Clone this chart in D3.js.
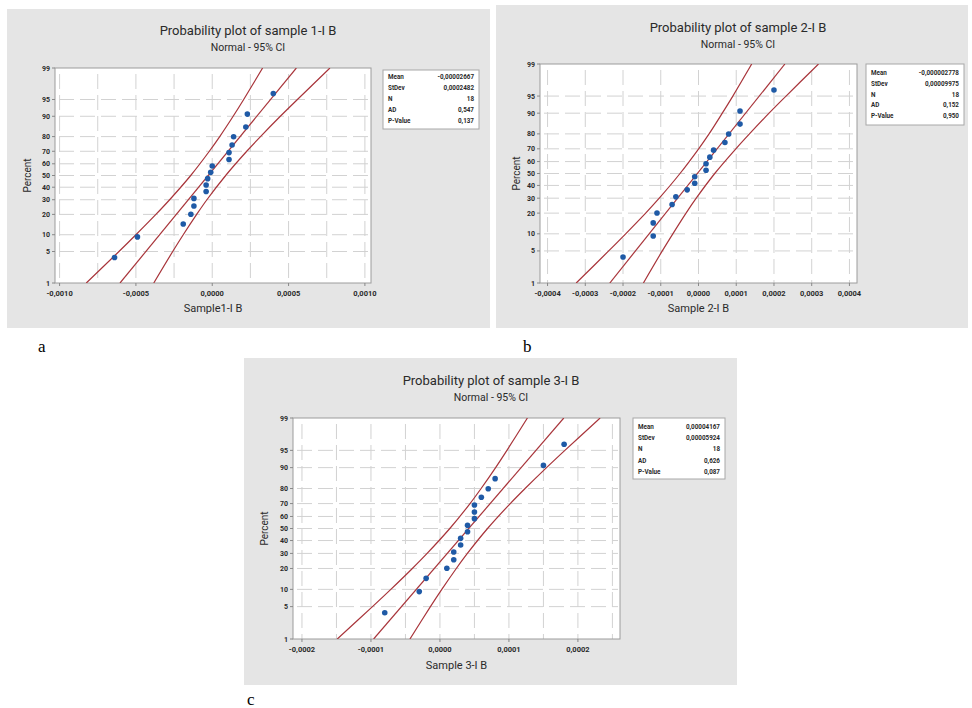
<!DOCTYPE html>
<html>
<head>
<meta charset="utf-8">
<script src="https://cdn.jsdelivr.net/npm/d3@7"></script>
<style>
  body { margin: 0; background: #fff; }
  svg { display: block; }
  text { font-family: Roboto, "Open Sans", sans-serif; fill: #2a2a2a; }
</style>
</head>
<body>
<div id="chart"></div>
<script>
// shared axis values
const percentTicks = [1, 5, 10, 20, 30, 40, 50, 60, 70, 80, 90, 95, 99];
const pointPercent = [3.8, 9.2, 14.7, 20.1, 25.5, 31.0, 36.4, 41.8, 47.3, 52.7, 58.2, 63.6, 69.0, 74.5, 79.9, 85.3, 90.8, 96.2];
const bandPercent = [1, 5, 10, 20, 30, 50, 70, 80, 90, 95, 99];
const fitPercent = [1, 99];
const statLabels = ["Mean", "StDev", "N", "AD", "P-Value"];

// sample 1-I B
const sample1 = [-0.00064, -0.00049, -0.00019, -0.00014, -0.00012, -0.00012, -0.00004, -0.00004, -0.00003, -0.00001, 0, 0.00011, 0.00011, 0.00013, 0.00014, 0.00022, 0.00023, 0.00040];
const fit1 = [-0.000604, 0.000551];
const lower1 = [-0.000825, -0.000611, -0.000500, -0.000369, -0.000279, -0.000141, -0.000019, 0.000049, 0.000137, 0.000206, 0.000330];
const upper1 = [-0.000383, -0.000259, -0.000190, -0.000102, -0.000035, 0.000088, 0.000226, 0.000316, 0.000446, 0.000558, 0.000771];
const stats1 = ["-0,00002667", "0,0002482", "18", "0,547", "0,137"];
const xTicks1 = [-0.001, -0.0005, 0, 0.0005, 0.001];
const xGrid1 = [-0.001, -0.00075, -0.0005, -0.00025, 0, 0.00025, 0.0005, 0.00075, 0.001];

// sample 2-I B
const sample2 = [-0.00020, -0.00012, -0.00012, -0.00011, -0.00007, -0.00006, -0.00003, -0.00001, -0.00001, 0.00002, 0.00002, 0.00003, 0.00004, 0.00007, 0.00008, 0.00011, 0.00011, 0.00020];
const fit2 = [-0.000235, 0.000229];
const lower2 = [-0.000324, -0.000238, -0.000193, -0.000140, -0.000104, -0.000049, 0.0000004, 0.000028, 0.000063, 0.000091, 0.000141];
const upper2 = [-0.000146, -0.000096, -0.000068, -0.000033, -0.000006, 0.000043, 0.000099, 0.000135, 0.000187, 0.000232, 0.000318];
const stats2 = ["-0,000002778", "0,00009975", "18", "0,152", "0,950"];
const xTicks2 = [-0.0004, -0.0003, -0.0002, -0.0001, 0, 0.0001, 0.0002, 0.0003, 0.0004];
const xGrid2 = xTicks2;

// sample 3-I B
const sample3 = [-0.00008, -0.00003, -0.00002, 0.00001, 0.00002, 0.00002, 0.00003, 0.00003, 0.00004, 0.00004, 0.00005, 0.00005, 0.00005, 0.00006, 0.00007, 0.00008, 0.00015, 0.00018];
const fit3 = [-0.0000961, 0.0001795];
const lower3 = [-0.0001488, -0.0000978, -0.0000712, -0.0000400, -0.0000186, 0.0000143, 0.0000436, 0.0000597, 0.0000807, 0.0000971, 0.0001268];
const upper3 = [-0.0000435, -0.0000138, 0.0000027, 0.0000237, 0.0000398, 0.0000690, 0.0001019, 0.0001234, 0.0001545, 0.0001811, 0.0002322];
const stats3 = ["0,00004167", "0,00005924", "18", "0,626", "0,087"];
const xTicks3 = [-0.0002, -0.0001, 0, 0.0001, 0.0002];
const xGrid3 = [-0.0002, -0.00015, -0.0001, -0.00005, 0, 0.00005, 0.0001, 0.00015, 0.0002, 0.00025];

const panels = [
  {id: "a", title: "Probability plot of sample 1-I B", xLabel: "Sample1-I B",
   data: sample1, fit: fit1, lower: lower1, upper: upper1, stats: stats1, xTicks: xTicks1, xGrid: xGrid1,
   bg: [7, 9, 483, 319], frame: [55, 68, 371, 283], xDomain: [-0.00103, 0.00104],
   titleX: 248, titleY: 35, legend: [383, 70, 96, 59], rows: [77, 88, 99, 110, 121],
   xLabelY: 312, yLabelX: 31, letter: [38, 352]},
  {id: "b", title: "Probability plot of sample 2-I B", xLabel: "Sample 2-I B",
   data: sample2, fit: fit2, lower: lower2, upper: upper2, stats: stats2, xTicks: xTicks2, xGrid: xGrid2,
   bg: [496, 5, 472, 323], frame: [540, 64, 857, 283], xDomain: [-0.00042, 0.00042],
   titleX: 738, titleY: 32, legend: [866, 64, 98, 61], rows: [73, 84, 95, 105, 116],
   xLabelY: 312, yLabelX: 520, letter: [523, 352]},
  {id: "c", title: "Probability plot of sample 3-I B", xLabel: "Sample 3-I B",
   data: sample3, fit: fit3, lower: lower3, upper: upper3, stats: stats3, xTicks: xTicks3, xGrid: xGrid3,
   bg: [244, 358, 493, 327], frame: [293, 418, 620, 639], xDomain: [-0.000213, 0.000261],
   titleX: 491, titleY: 385, legend: [633, 418, 92, 61], rows: [427, 438, 449, 461, 472],
   xLabelY: 669, yLabelX: 268, letter: [247, 705]}
];

// inverse normal cdf (Acklam) for the probability axis
function probit(p) {
  const a = [-39.69683028665376, 220.9460984245205, -275.9285104469687, 138.3577518672690, -30.66479806614716, 2.506628277459239];
  const b = [-54.47609879822406, 161.5858368580409, -155.6989798598866, 66.80131188771720, -13.28068155288572];
  const c = [-7.784894002430293e-03, -3.223964580411365e-01, -2.400758277161838, -2.549732539343734, 4.374664141464968, 2.938163982698783];
  const d = [7.784695709041462e-03, 3.224671290700398e-01, 2.445134137142996, 3.754408661907416];
  const pl = 0.02425;
  if (p < pl) {
    const q = Math.sqrt(-2 * Math.log(p));
    return (((((c[0]*q+c[1])*q+c[2])*q+c[3])*q+c[4])*q+c[5]) / ((((d[0]*q+d[1])*q+d[2])*q+d[3])*q+1);
  }
  if (p > 1 - pl) {
    const q = Math.sqrt(-2 * Math.log(1 - p));
    return -(((((c[0]*q+c[1])*q+c[2])*q+c[3])*q+c[4])*q+c[5]) / ((((d[0]*q+d[1])*q+d[2])*q+d[3])*q+1);
  }
  const q = p - 0.5, r = q * q;
  return (((((a[0]*r+a[1])*r+a[2])*r+a[3])*r+a[4])*r+a[5])*q / (((((b[0]*r+b[1])*r+b[2])*r+b[3])*r+b[4])*r+1);
}

const fmt = d3.formatLocale({decimal: ",", thousands: ".", grouping: [3], currency: ["", ""], minus: "-"}).format(".4f");

let svg = d3.select("#chart")
  .append("svg")
  .attr("width", 972)
  .attr("height", 708);

panels.forEach(function(p) {
  let g = svg.append("g");
  let [fx0, fy0, fx1, fy1] = p.frame;

  let x = d3.scaleLinear().domain(p.xDomain).range([fx0, fx1]);
  let zScale = d3.scaleLinear().domain([probit(0.01), probit(0.99)]).range([fy1, fy0]);
  let y = function(pct) { return zScale(probit(pct / 100)); };

  g.append("rect")
    .attr("x", p.bg[0]).attr("y", p.bg[1])
    .attr("width", p.bg[2]).attr("height", p.bg[3])
    .attr("fill", "#e5e5e5");

  g.append("rect")
    .attr("x", fx0).attr("y", fy0)
    .attr("width", fx1 - fx0).attr("height", fy1 - fy0)
    .attr("fill", "#fff");

  // gridlines
  let grid = g.append("g")
    .attr("stroke", "#d2d2d2")
    .attr("stroke-width", 1)
    .attr("stroke-dasharray", "15,6");
  grid.selectAll("line.h")
    .data(percentTicks.filter(d => d > 1 && d < 99))
    .enter().append("line")
    .attr("x1", fx0 + 4).attr("x2", fx1 - 2)
    .attr("y1", d => y(d)).attr("y2", d => y(d));
  grid.selectAll("line.v")
    .data(p.xGrid)
    .enter().append("line")
    .attr("x1", d => x(d)).attr("x2", d => x(d))
    .attr("y1", fy0 + 6).attr("y2", fy1);

  g.append("rect")
    .attr("x", fx0).attr("y", fy0)
    .attr("width", fx1 - fx0).attr("height", fy1 - fy0)
    .attr("fill", "none")
    .attr("stroke", "#9c9c9c");

  // y axis
  let yAxis = g.append("g");
  yAxis.selectAll("line")
    .data(percentTicks)
    .enter().append("line")
    .attr("x1", fx0 - 3).attr("x2", fx0)
    .attr("y1", d => y(d)).attr("y2", d => y(d))
    .attr("stroke", "#888");
  yAxis.selectAll("text")
    .data(percentTicks)
    .enter().append("text")
    .attr("x", fx0 - 5)
    .attr("y", d => y(d) + 2.5)
    .attr("text-anchor", "end")
    .style("font-size", "7px")
    .style("font-weight", "bold")
    .text(d => d);

  // x axis
  let xAxis = g.append("g");
  xAxis.selectAll("line")
    .data(p.xTicks)
    .enter().append("line")
    .attr("x1", d => x(d)).attr("x2", d => x(d))
    .attr("y1", fy1).attr("y2", fy1 + 3)
    .attr("stroke", "#888");
  xAxis.selectAll("text")
    .data(p.xTicks)
    .enter().append("text")
    .attr("x", d => x(d))
    .attr("y", fy1 + 13)
    .attr("text-anchor", "middle")
    .style("font-size", "7.5px")
    .style("font-weight", "bold")
    .text(d => fmt(d));

  // titles and axis labels
  g.append("text")
    .attr("x", p.titleX).attr("y", p.titleY)
    .attr("text-anchor", "middle")
    .style("font-size", "13px")
    .text(p.title);
  g.append("text")
    .attr("x", p.titleX).attr("y", p.titleY + 16)
    .attr("text-anchor", "middle")
    .style("font-size", "10.5px")
    .text("Normal - 95% CI");
  g.append("text")
    .attr("x", (fx0 + fx1) / 2).attr("y", p.xLabelY)
    .attr("text-anchor", "middle")
    .style("font-size", "11px")
    .text(p.xLabel);
  g.append("text")
    .attr("transform", `translate(${p.yLabelX}, ${(fy0 + fy1) / 2}) rotate(-90)`)
    .attr("text-anchor", "middle")
    .style("font-size", "10px")
    .text("Percent");

  // fitted line and confidence bands
  let clipId = "clip-" + p.id;
  g.append("clipPath").attr("id", clipId)
    .append("rect")
    .attr("x", fx0).attr("y", fy0)
    .attr("width", fx1 - fx0).attr("height", fy1 - fy0);
  let plot = g.append("g").attr("clip-path", `url(#${clipId})`);

  let band = d3.line()
    .x(d => x(d[0]))
    .y(d => y(d[1]))
    .curve(d3.curveCatmullRom.alpha(0.5));

  [p.lower, p.upper].forEach(function(vals) {
    plot.append("path")
      .attr("d", band(vals.map((v, i) => [v, bandPercent[i]])))
      .attr("fill", "none")
      .attr("stroke", "#a8343a")
      .attr("stroke-width", 1.2);
  });
  plot.append("path")
    .attr("d", d3.line().x(d => x(d[0])).y(d => y(d[1]))(p.fit.map((v, i) => [v, fitPercent[i]])))
    .attr("fill", "none")
    .attr("stroke", "#a8343a")
    .attr("stroke-width", 1.2);

  plot.selectAll("circle")
    .data(p.data)
    .enter().append("circle")
    .attr("cx", d => x(d))
    .attr("cy", (d, i) => y(pointPercent[i]))
    .attr("r", 2.8)
    .attr("fill", "#1f5aa6");

  // statistics box
  let [lx, ly, lw, lh] = p.legend;
  g.append("rect")
    .attr("x", lx).attr("y", ly)
    .attr("width", lw).attr("height", lh)
    .attr("fill", "#fff")
    .attr("stroke", "#a8a8a8");
  statLabels.forEach(function(label, i) {
    g.append("text")
      .attr("x", lx + 5).attr("y", p.rows[i] + 2)
      .style("font-size", "6.3px")
      .style("font-weight", "bold")
      .text(label);
    g.append("text")
      .attr("x", lx + lw - 5).attr("y", p.rows[i] + 2)
      .attr("text-anchor", "end")
      .style("font-size", "6.3px")
      .style("font-weight", "bold")
      .text(p.stats[i]);
  });

  // panel letter
  svg.append("text")
    .attr("x", p.letter[0]).attr("y", p.letter[1])
    .style("font-family", "'Liberation Serif', 'DejaVu Serif', serif")
    .style("font-size", "17px")
    .style("fill", "#000")
    .text(p.id);
});
</script>
</body>
</html>
